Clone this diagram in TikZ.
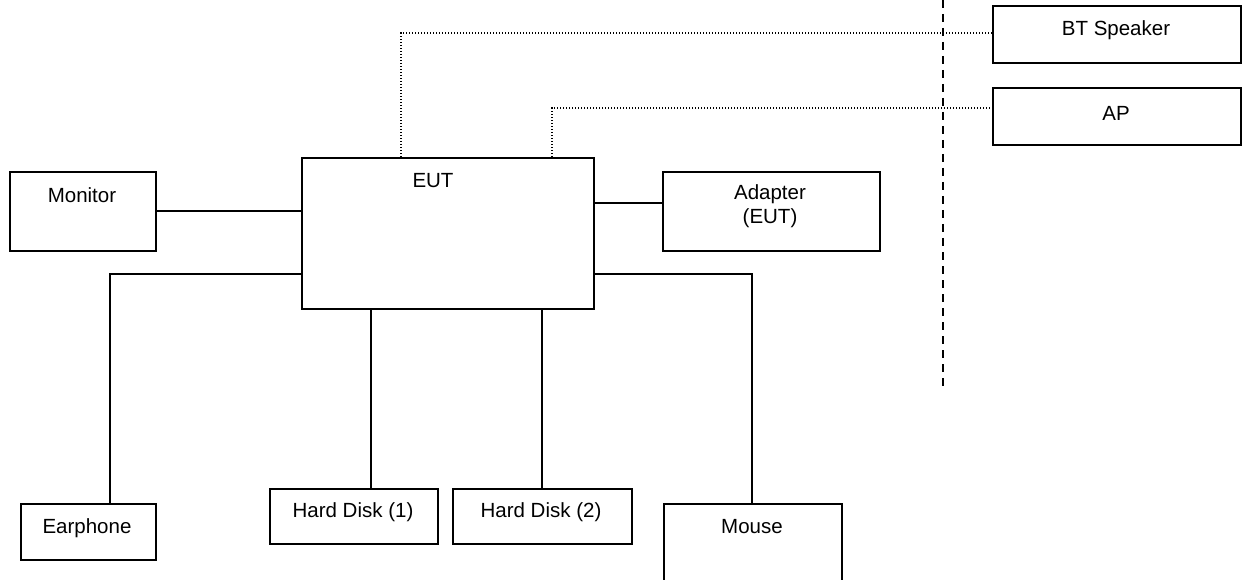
\documentclass[tikz,border=0pt]{standalone}
\usepackage{fontspec}
\setmainfont{Liberation Sans}
\begin{document}
\begin{tikzpicture}[x=1pt,y=-1pt,
  box/.style={draw=black,line width=1.8pt,rectangle,anchor=north west,inner sep=0pt},
  lbl/.style={font=\fontsize{20.5}{23.5}\selectfont,align=center,inner sep=0pt},
  wire/.style={draw=black,line width=1.8pt},
  dotline/.style={draw=black,line width=1.2pt,dash pattern=on 1.2pt off 1.8pt},
  dashline/.style={draw=black,line width=2pt,dash pattern=on 8pt off 6pt}]
\useasboundingbox (0,0) rectangle (1242,580);
\clip (0,0) rectangle (1242,580);
% boxes
\node[box,minimum width=248pt,minimum height=57pt] (bt) at (992,5) {};
\node[box,minimum width=248pt,minimum height=57pt] (ap) at (992,87) {};
\node[box,minimum width=146pt,minimum height=79pt] (mon) at (9,171) {};
\node[box,minimum width=292pt,minimum height=151pt] (eut) at (301,157) {};
\node[box,minimum width=217pt,minimum height=79pt] (adp) at (662,171) {};
\node[box,minimum width=135pt,minimum height=56pt] (ear) at (20,503) {};
\node[box,minimum width=168pt,minimum height=55pt] (hd1) at (269,488) {};
\node[box,minimum width=179pt,minimum height=55pt] (hd2) at (452,488) {};
\node[box,minimum width=178pt,minimum height=95pt] (mou) at (663,503) {};
% labels
\node[lbl] (btt) at (1116,30) {BT Speaker};
\node[lbl] (apt) at (1116,113) {AP};
\node[lbl] (mont) at (82,195) {Monitor};
\node[lbl] (eutt) at (433,181) {EUT};
\node[lbl] (adpt) at (770,206) {Adapter\\(EUT)};
\node[lbl] (eart) at (87,528) {Earphone};
\node[lbl] (hd1t) at (353,512) {Hard Disk (1)};
\node[lbl] (hd2t) at (541,512) {Hard Disk (2)};
\node[lbl] (mout) at (752,527) {Mouse};
% coordinates
\coordinate (cbt) at (401,33);
\coordinate (cap) at (552,108);
\coordinate (cadp) at (620,203);
\coordinate (cear) at (110,274);
\coordinate (cmou) at (752,274);
\coordinate (chd1) at (371,400);
\coordinate (chd2) at (542,400);
\coordinate (d1) at (943,0);
\coordinate (d2) at (943,386);
% connectors
\draw[wire] (mon.east) -- (mon.east -| eut.west);
\draw[wire] (eut.east |- cadp) -- (adp.west |- cadp);
\draw[wire] (eut.west |- cear) -- (cear) -- (ear.north -| cear);
\draw[wire] (eut.south -| chd1) -- (hd1.north -| chd1);
\draw[wire] (eut.south -| chd2) -- (hd2.north -| chd2);
\draw[wire] (eut.east |- cmou) -- (cmou) -- (mou.north -| cmou);
\draw[dotline] (eut.north -| cbt) -- (cbt) -- (bt.west |- cbt);
\draw[dotline] (eut.north -| cap) -- (cap) -- (ap.west |- cap);
\draw[dashline] (d1) -- (d2);
\end{tikzpicture}
\end{document}
